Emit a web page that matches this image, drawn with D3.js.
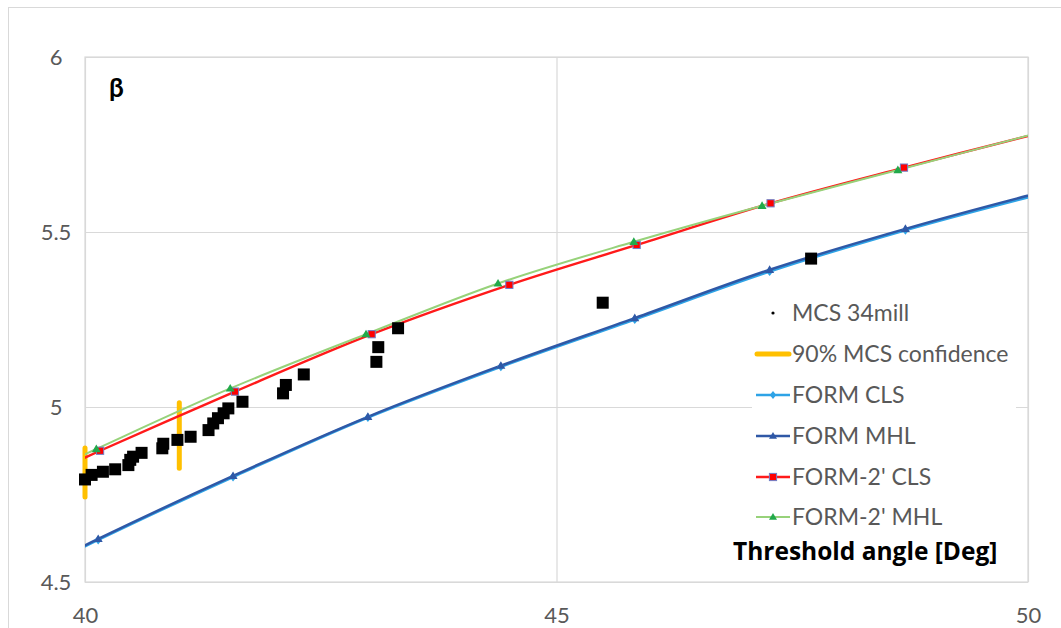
<!DOCTYPE html>
<html>
<head>
<meta charset="utf-8">
<script src="https://cdn.jsdelivr.net/npm/d3@7"></script>
<style>
  html, body { margin: 0; padding: 0; background: #fff; }
  svg { display: block; }
  text { font-family: Lato, "Open Sans", sans-serif; }
</style>
</head>
<body>
<svg id="chart" width="1061" height="628"></svg>
<script>
// Monte Carlo estimates of the reliability index
const mcsAngle = [40.00, 40.07, 40.19, 40.32, 40.46, 40.48, 40.51, 40.60, 40.82, 40.83,
                  40.98, 41.12, 41.31, 41.36, 41.41, 41.47, 41.52, 41.67, 42.10, 42.13,
                  42.32, 43.09, 43.11, 43.32, 45.49, 47.70];
const mcsBeta  = [4.793, 4.806, 4.815, 4.822, 4.834, 4.849, 4.858, 4.869, 4.882, 4.895,
                  4.906, 4.915, 4.934, 4.953, 4.968, 4.982, 4.996, 5.015, 5.039, 5.063,
                  5.093, 5.129, 5.171, 5.225, 5.298, 5.424];

// 90% confidence band of the MCS estimate
const confAngle = [40, 41];
const confLow   = [4.743, 4.825];
const confHigh  = [4.883, 5.012];

// FORM results
const formClsAngle = [38.71, 40.14, 41.57, 43.00, 44.41, 45.83, 47.26, 48.70, 50.13];
const formClsBeta  = [4.425, 4.620, 4.800, 4.970, 5.115, 5.250, 5.387, 5.505, 5.608];
const formMhlAngle = [38.71, 40.14, 41.57, 43.00, 44.41, 45.83, 47.26, 48.70, 50.13];
const formMhlBeta  = [4.430, 4.623, 4.803, 4.972, 5.118, 5.254, 5.392, 5.509, 5.613];

// Second-order FORM results
const form2ClsAngle = [38.73, 40.16, 41.59, 43.04, 44.50, 45.85, 47.27, 48.685, 50.11];
const form2ClsBeta  = [4.700, 4.875, 5.044, 5.208, 5.349, 5.463, 5.582, 5.684, 5.782];
const form2MhlAngle = [38.69, 40.12, 41.54, 42.98, 44.38, 45.82, 47.18, 48.62, 50.06];
const form2MhlBeta  = [4.700, 4.880, 5.053, 5.208, 5.353, 5.472, 5.575, 5.677, 5.780];

const xTicks = [40, 45, 50];
const yTicks = [4.5, 5, 5.5, 6];
const seriesNames = ["MCS 34mill", "90% MCS confidence", "FORM CLS", "FORM MHL",
                     "FORM-2' CLS", "FORM-2' MHL"];
const xTitle = "Threshold angle [Deg]";
const yTitle = "β";

const svg = d3.select("#chart");
const plot = { left: 85, right: 1028, top: 57, bottom: 582 };

const x = d3.scaleLinear().domain([40, 50]).range([plot.left, plot.right]);
const y = d3.scaleLinear().domain([4.5, 6]).range([plot.bottom, plot.top]);
const tickFmt = d3.format("~g");

// chart frame
svg.append("rect")
  .attr("x", 8.5).attr("y", 7.5).attr("width", 1100).attr("height", 700)
  .attr("fill", "#fff").attr("stroke", "#d9d9d9").attr("stroke-width", 1);

// gridlines
const gridX = svg.append("g").attr("transform", `translate(0,${plot.bottom})`)
  .call(d3.axisBottom(x).tickValues(xTicks).tickSize(-(plot.bottom - plot.top)).tickFormat(""));
const gridY = svg.append("g").attr("transform", `translate(${plot.left},0)`)
  .call(d3.axisLeft(y).tickValues(yTicks).tickSize(-(plot.right - plot.left)).tickFormat(""));
[gridX, gridY].forEach(g => {
  g.select(".domain").remove();
  g.selectAll("line").attr("stroke", "#d9d9d9").attr("stroke-width", 1.2);
});

// plot border
svg.append("rect")
  .attr("x", plot.left).attr("y", plot.top)
  .attr("width", plot.right - plot.left).attr("height", plot.bottom - plot.top)
  .attr("fill", "none").attr("stroke", "#d9d9d9").attr("stroke-width", 1.2);

// tick labels
const xAxis = svg.append("g").attr("transform", `translate(0,${plot.bottom})`)
  .call(d3.axisBottom(x).tickValues(xTicks).tickFormat(tickFmt).tickSize(0).tickPadding(0));
xAxis.select(".domain").remove();
xAxis.selectAll("text").attr("y", 33).attr("dy", "0.35em")
  .attr("fill", "#595959").style("font-size", "22px").style("font-family", "Lato, sans-serif");

const yAxis = svg.append("g").attr("transform", `translate(${plot.left},0)`)
  .call(d3.axisLeft(y).tickValues(yTicks).tickFormat(tickFmt).tickSize(0).tickPadding(0));
yAxis.select(".domain").remove();
yAxis.selectAll("text").attr("x", -29).attr("dy", "0.35em").attr("text-anchor", "middle")
  .attr("fill", "#595959").style("font-size", "22px").style("font-family", "Lato, sans-serif");

// clip region for the curves
svg.append("clipPath").attr("id", "plotClip")
  .append("rect").attr("x", plot.left).attr("y", plot.top)
  .attr("width", plot.right - plot.left).attr("height", plot.bottom - plot.top);

// confidence bars
svg.append("g").selectAll("line").data(confAngle).join("line")
  .attr("x1", d => x(d)).attr("x2", d => x(d))
  .attr("y1", (d, i) => y(confLow[i])).attr("y2", (d, i) => y(confHigh[i]))
  .attr("stroke", "#ffc000").attr("stroke-width", 5).attr("stroke-linecap", "round");

const lineGen = d3.line().x(d => x(d[0])).y(d => y(d[1])).curve(d3.curveCatmullRom.alpha(0.5));
const zip = (a, b) => a.map((v, i) => [v, b[i]]);

const curves = [
  { pts: zip(formClsAngle, formClsBeta), color: "#2ea3e6", width: 2.5, marker: "diamond", mcolor: "#2ea3e6" },
  { pts: zip(formMhlAngle, formMhlBeta), color: "#2f58a6", width: 2.5, marker: "triangle", mcolor: "#2f58a6" },
  { pts: zip(form2ClsAngle, form2ClsBeta), color: "#ff1a1a", width: 2.4, marker: "square", mcolor: "#ff0000" },
  { pts: zip(form2MhlAngle, form2MhlBeta), color: "#97d27a", width: 2, marker: "triangle", mcolor: "#22a94b" }
];

const curveLayer = svg.append("g").attr("clip-path", "url(#plotClip)");
curves.forEach(c => {
  curveLayer.append("path").datum(c.pts)
    .attr("d", lineGen).attr("fill", "none")
    .attr("stroke", c.color).attr("stroke-width", c.width);
});

function drawMarker(g, type, cx, cy, color, s) {
  if (type === "diamond") {
    g.append("path").attr("d", `M${cx},${cy - s}L${cx + s * 0.8},${cy}L${cx},${cy + s}L${cx - s * 0.8},${cy}Z`)
      .attr("fill", color);
  } else if (type === "triangle") {
    g.append("path").attr("d", `M${cx},${cy - s}L${cx + s},${cy + s * 0.7}L${cx - s},${cy + s * 0.7}Z`)
      .attr("fill", color);
  } else if (type === "square") {
    g.append("rect").attr("x", cx - s).attr("y", cy - s).attr("width", 2 * s).attr("height", 2 * s)
      .attr("fill", color).attr("stroke", "#6f7fc8").attr("stroke-width", 1);
  }
}

const markerLayer = svg.append("g");
curves.forEach(c => {
  c.pts.filter(p => p[0] >= 40 && p[0] <= 50).forEach(p => {
    drawMarker(markerLayer, c.marker, x(p[0]), y(p[1]), c.mcolor, c.marker === "square" ? 3.6 : 4.5);
  });
});

// MCS points
svg.append("g").selectAll("rect").data(mcsAngle).join("rect")
  .attr("x", d => x(d) - 6).attr("y", (d, i) => y(mcsBeta[i]) - 6)
  .attr("width", 12).attr("height", 12).attr("fill", "#000");

// legend
const legend = svg.append("g");
legend.append("rect").attr("x", 752).attr("y", 294).attr("width", 264).attr("height", 240).attr("fill", "#fff");
const legY = [313, 354, 395, 436, 477, 517];
seriesNames.forEach((name, i) => {
  const ly = legY[i];
  if (i === 0) {
    legend.append("circle").attr("cx", 773).attr("cy", ly).attr("r", 1.6).attr("fill", "#000");
  } else if (i === 1) {
    legend.append("line").attr("x1", 757).attr("x2", 789).attr("y1", ly).attr("y2", ly)
      .attr("stroke", "#ffc000").attr("stroke-width", 5).attr("stroke-linecap", "round");
  } else {
    const c = curves[i - 2];
    legend.append("line").attr("x1", 756).attr("x2", 790).attr("y1", ly).attr("y2", ly)
      .attr("stroke", c.color).attr("stroke-width", c.width);
    drawMarker(legend, c.marker, 773, ly, c.mcolor, c.marker === "square" ? 3.6 : 4);
  }
  legend.append("text").attr("x", 792).attr("y", ly).attr("dy", "0.35em")
    .attr("fill", "#595959").style("font-size", "23px").text(name);
});

// axis titles
svg.append("text").attr("x", 733).attr("y", 551).attr("dy", "0.35em")
  .attr("fill", "#000").style("font-size", "24.5px").style("font-weight", "bold")
  .style("font-family", "'Open Sans', sans-serif").text(xTitle);
svg.append("text").attr("x", 109).attr("y", 88).attr("dy", "0.35em")
  .attr("fill", "#000").style("font-size", "26px").style("font-weight", "bold").text(yTitle);
</script>
</body>
</html>
